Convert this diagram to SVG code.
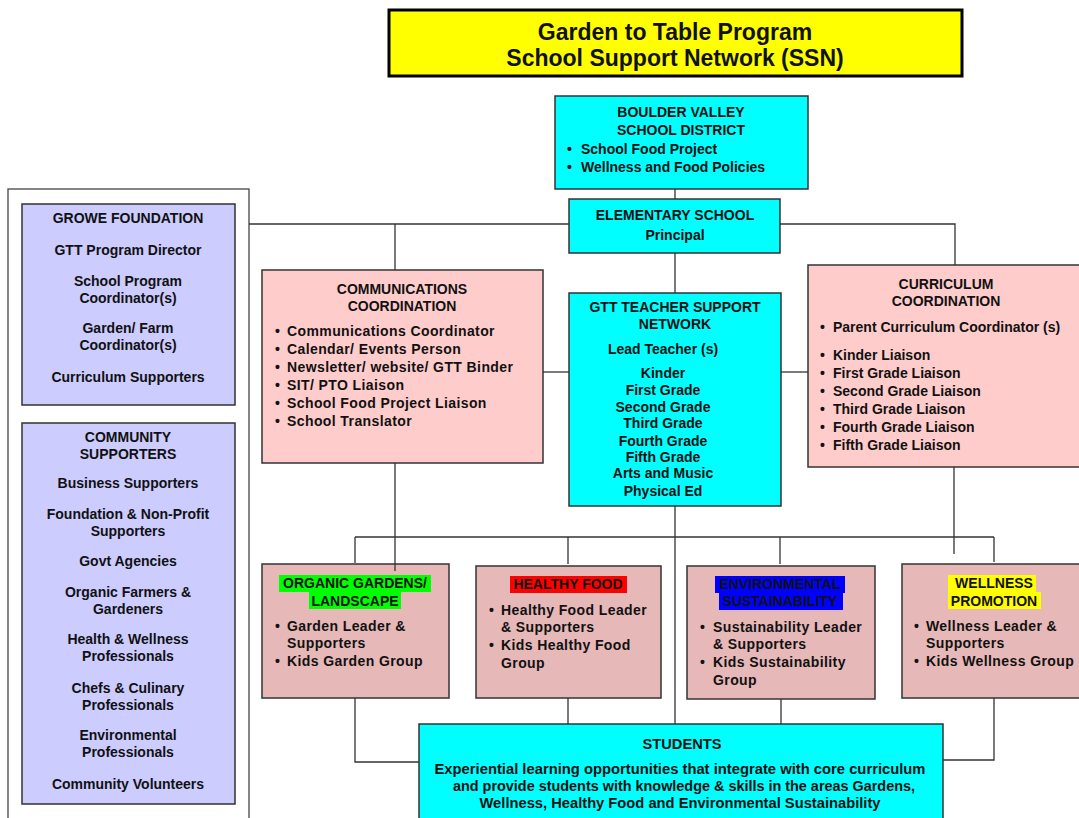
<svg xmlns="http://www.w3.org/2000/svg" width="1079" height="818" viewBox="0 0 1079 818">
<style>
text{font-family:"Liberation Sans",Arial,sans-serif;font-weight:bold;font-size:14px;fill:#111}
.c{text-anchor:middle}
.t{font-size:23px}
.box{stroke:#333;stroke-width:1.5}
.cyan{fill:#00FFFF}
.pink{fill:#FFCCCC}
.rose{fill:#E6B8B8}
.lav{fill:#CCCCFF}
.bt{letter-spacing:0.4px}
.conn{fill:none;stroke:#333;stroke-width:1.3}
</style>
<rect width="1079" height="818" fill="#fff"/>
<g id="title">
<rect x="389" y="10" width="573" height="66" fill="#FFFF00" stroke="#000" stroke-width="3"/>
<text class="c t" x="675" y="40">Garden to Table Program</text>
<text class="c t" x="675" y="66">School Support Network (SSN)</text>
</g>
<g id="bvsd">
<rect class="box cyan" x="555" y="96" width="253" height="93"/>
<text class="c" x="681" y="117">BOULDER VALLEY</text>
<text class="c" x="681" y="135">SCHOOL DISTRICT</text>
<text x="567" y="154">•</text><text x="581" y="154">School Food Project</text>
<text x="567" y="172">•</text><text x="581" y="172">Wellness and Food Policies</text>
</g>
<g id="elementary">
<rect class="box cyan" x="569" y="199" width="211" height="54"/>
<text class="c" x="675" y="220">ELEMENTARY SCHOOL</text>
<text class="c" x="675" y="240">Principal</text>
</g>
<g id="outer">
<rect x="8" y="189" width="241" height="640" fill="#fff" stroke="#444" stroke-width="1.3"/>
</g>
<g id="growe">
<rect class="box lav" x="22" y="204" width="213" height="201"/>
<text class="c" x="128" y="223">GROWE FOUNDATION</text>
<text class="c" x="128" y="255">GTT Program Director</text>
<text class="c" x="128" y="286">School Program</text>
<text class="c" x="128" y="303">Coordinator(s)</text>
<text class="c" x="128" y="333">Garden/ Farm</text>
<text class="c" x="128" y="350">Coordinator(s)</text>
<text class="c" x="128" y="382">Curriculum Supporters</text>
</g>
<g id="community">
<rect class="box lav" x="22" y="423" width="213" height="381"/>
<text class="c" x="128" y="442">COMMUNITY</text>
<text class="c" x="128" y="459">SUPPORTERS</text>
<text class="c" x="128" y="488">Business Supporters</text>
<text class="c" x="128" y="519">Foundation &amp; Non-Profit</text>
<text class="c" x="128" y="536">Supporters</text>
<text class="c" x="128" y="566">Govt Agencies</text>
<text class="c" x="128" y="597">Organic Farmers &amp;</text>
<text class="c" x="128" y="614">Gardeners</text>
<text class="c" x="128" y="644">Health &amp; Wellness</text>
<text class="c" x="128" y="661">Professionals</text>
<text class="c" x="128" y="693">Chefs &amp; Culinary</text>
<text class="c" x="128" y="710">Professionals</text>
<text class="c" x="128" y="740">Environmental</text>
<text class="c" x="128" y="757">Professionals</text>
<text class="c" x="128" y="789">Community Volunteers</text>
</g>
<g id="communications">
<rect class="box pink" x="262" y="270" width="281" height="193"/>
<text class="c" x="402" y="294">COMMUNICATIONS</text>
<text class="c" x="402" y="311">COORDINATION</text>
<g class="bt">
<text x="275" y="336">•</text><text x="287" y="336">Communications Coordinator</text>
<text x="275" y="354">•</text><text x="287" y="354">Calendar/ Events Person</text>
<text x="275" y="372">•</text><text x="287" y="372">Newsletter/ website/ GTT Binder</text>
<text x="275" y="390">•</text><text x="287" y="390">SIT/ PTO Liaison</text>
<text x="275" y="408">•</text><text x="287" y="408">School Food Project Liaison</text>
<text x="275" y="426">•</text><text x="287" y="426">School Translator</text>
</g>
</g>
<g id="gtt">
<rect class="box cyan" x="569" y="293" width="212" height="213"/>
<text class="c" x="675" y="312">GTT TEACHER SUPPORT</text>
<text class="c" x="675" y="329">NETWORK</text>
<text class="c" x="663" y="354">Lead Teacher (s)</text>
<text class="c" x="663" y="378">Kinder</text>
<text class="c" x="663" y="395">First Grade</text>
<text class="c" x="663" y="412">Second Grade</text>
<text class="c" x="663" y="428">Third Grade</text>
<text class="c" x="663" y="446">Fourth Grade</text>
<text class="c" x="663" y="462">Fifth Grade</text>
<text class="c" x="663" y="478">Arts and Music</text>
<text class="c" x="663" y="496">Physical Ed</text>
</g>
<g id="curriculum">
<rect class="box pink" x="808" y="265" width="280" height="202"/>
<text class="c" x="946" y="289">CURRICULUM</text>
<text class="c" x="946" y="306">COORDINATION</text>
<text x="820" y="332">•</text><text x="833" y="332">Parent Curriculum Coordinator (s)</text>
<text x="820" y="360">•</text><text x="833" y="360">Kinder Liaison</text>
<text x="820" y="378">•</text><text x="833" y="378">First Grade Liaison</text>
<text x="820" y="396">•</text><text x="833" y="396">Second Grade Liaison</text>
<text x="820" y="414">•</text><text x="833" y="414">Third Grade Liaison</text>
<text x="820" y="432">•</text><text x="833" y="432">Fourth Grade Liaison</text>
<text x="820" y="450">•</text><text x="833" y="450">Fifth Grade Liaison</text>
</g>
<g id="organic">
<rect class="box rose" x="262" y="564" width="187" height="134"/>
<rect x="279" y="575" width="152" height="17" fill="#00FF00"/>
<rect x="309" y="592" width="92" height="17" fill="#00FF00"/>
<text class="c" x="355" y="588">ORGANIC GARDENS/</text>
<text class="c" x="355" y="606">LANDSCAPE</text>
<g class="bt">
<text x="275" y="631">•</text><text x="287" y="631">Garden Leader &amp;</text>
<text x="287" y="648">Supporters</text>
<text x="275" y="666">•</text><text x="287" y="666">Kids Garden Group</text>
</g>
</g>
<g id="healthy">
<rect class="box rose" x="476" y="566" width="185" height="132"/>
<rect x="510" y="576" width="117" height="17" fill="#FF0000"/>
<text class="c" x="568" y="589">HEALTHY FOOD</text>
<g class="bt">
<text x="489" y="615">•</text><text x="501" y="615">Healthy Food Leader</text>
<text x="501" y="632">&amp; Supporters</text>
<text x="489" y="650">•</text><text x="501" y="650">Kids Healthy Food</text>
<text x="501" y="668">Group</text>
</g>
</g>
<g id="environmental">
<rect class="box rose" x="687" y="566" width="188" height="133"/>
<rect x="715" y="576" width="130" height="17" fill="#0000FF"/>
<rect x="719" y="593" width="124" height="17" fill="#0000FF"/>
<text class="c" x="780" y="589">ENVIRONMENTAL</text>
<text class="c" x="780" y="606">SUSTAINABILITY</text>
<g class="bt">
<text x="700" y="632">•</text><text x="713" y="632">Sustainability Leader</text>
<text x="713" y="649">&amp; Supporters</text>
<text x="700" y="667">•</text><text x="713" y="667">Kids Sustainability</text>
<text x="713" y="685">Group</text>
</g>
</g>
<g id="wellness">
<rect class="box rose" x="902" y="564" width="186" height="134"/>
<rect x="948" y="575" width="88" height="17" fill="#FFFF00"/>
<rect x="948" y="592" width="93" height="17" fill="#FFFF00"/>
<text class="c" x="994" y="588">WELLNESS</text>
<text class="c" x="994" y="606">PROMOTION</text>
<g class="bt">
<text x="914" y="631">•</text><text x="926" y="631">Wellness Leader &amp;</text>
<text x="926" y="648">Supporters</text>
<text x="914" y="666">•</text><text x="926" y="666">Kids Wellness Group</text>
</g>
</g>
<g id="students">
<rect class="box cyan" x="419" y="724" width="524" height="110"/>
<text class="c" x="682" y="749" textLength="79" lengthAdjust="spacingAndGlyphs">STUDENTS</text>
<text class="c" x="680" y="774" textLength="491" lengthAdjust="spacingAndGlyphs">Experiential learning opportunities that integrate with core curriculum</text>
<text class="c" x="684" y="791" textLength="462" lengthAdjust="spacingAndGlyphs">and provide students with knowledge &amp; skills in the areas Gardens,</text>
<text class="c" x="680" y="808" textLength="401" lengthAdjust="spacingAndGlyphs">Wellness, Healthy Food and Environmental Sustainability</text>
</g>
<g id="connectors" class="conn">
<path d="M675,189V199"/>
<path d="M249,224H569"/>
<path d="M780,224H955V265"/>
<path d="M395,224V270"/>
<path d="M675,253V293"/>
<path d="M543,372H569"/>
<path d="M781,372H808"/>
<path d="M395,463V571"/>
<path d="M675,506V724"/>
<path d="M954,467V554"/>
<path d="M355,537H994"/>
<path d="M355,537V563"/>
<path d="M568,537V564"/>
<path d="M780,537V564"/>
<path d="M994,537V562"/>
<path d="M355,698V762H419"/>
<path d="M568,698V724"/>
<path d="M781,699V724"/>
<path d="M994,698V760H943"/>
</g>
</svg>
